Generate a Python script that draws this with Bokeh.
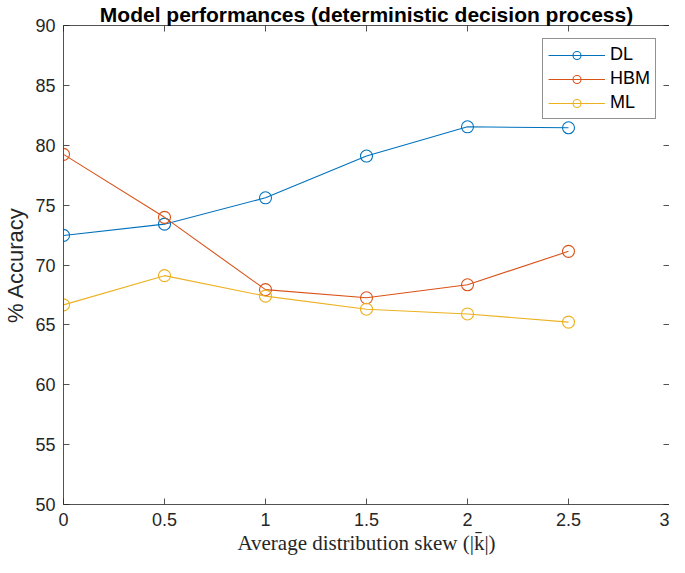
from bokeh.plotting import figure
from bokeh.models import Range1d, LinearAxis, FixedTicker, Legend, LegendItem, CustomJSTickFormatter
from bokeh.embed import file_html
from bokeh.resources import INLINE

skew = [0, 0.5, 1, 1.5, 2, 2.5]
dl = [72.47, 73.41, 75.61, 79.10, 81.54, 81.46]
hbm = [79.24, 73.98, 67.94, 67.26, 68.35, 71.14]
ml = [66.67, 69.11, 67.40, 66.31, 65.91, 65.23]

series_names = ["DL", "HBM", "ML"]
series_colors = ["#0072BD", "#D95319", "#EDB120"]

x_ticks = [0, 0.5, 1, 1.5, 2, 2.5, 3]
x_tick_labels = ["0", "0.5", "1", "1.5", "2", "2.5", "3"]
y_ticks = [50, 55, 60, 65, 70, 75, 80, 85, 90]
y_tick_labels = ["50", "55", "60", "65", "70", "75", "80", "85", "90"]

FONT = "Liberation Sans"
AX = "#262626"

p = figure(width=669, height=557, output_backend="svg", toolbar_location=None,
           x_range=Range1d(0, 3), y_range=Range1d(50, 90),
           title="Model performances (deterministic decision process)",
           min_border_left=0, min_border_right=0, min_border_top=0, min_border_bottom=0)
p.title.align = "center"
p.title.text_font = FONT
p.title.text_font_size = "21px"
p.title.text_font_style = "bold"
p.title.text_color = "#000000"
p.title.standoff = 0
p.title.offset = 0
p.grid.visible = False
p.outline_line_color = None
p.background_fill_color = "white"

def style_axis(ax, ticks, labels, show_labels=True):
    ax.ticker = FixedTicker(ticks=ticks)
    ax.major_tick_in = 6
    ax.major_tick_out = 0
    ax.minor_tick_line_color = None
    ax.axis_line_color = AX
    ax.axis_line_width = 0.8
    ax.major_tick_line_color = AX
    ax.major_tick_line_width = 0.8
    ax.major_label_text_font = FONT
    ax.major_label_text_color = AX
    if show_labels:
        ax.major_label_overrides = {t: l for t, l in zip(ticks, labels)}
        ax.major_label_text_font_size = "18px"
        ax.major_label_standoff = 8
    else:
        ax.formatter = CustomJSTickFormatter(code="return '';")
        ax.major_label_text_font_size = "0px"
        ax.major_label_standoff = 0
        ax.axis_label_standoff = 0

style_axis(p.xaxis[0], x_ticks, x_tick_labels)
style_axis(p.yaxis[0], y_ticks, y_tick_labels)
p.xaxis[0].axis_label = "Average distribution skew (|k\u0304|)"
p.xaxis[0].axis_label_text_font = "Liberation Serif"
p.xaxis[0].axis_label_text_font_style = "normal"
p.xaxis[0].axis_label_text_font_size = "21px"
p.xaxis[0].axis_label_text_color = AX
p.xaxis[0].axis_label_standoff = 2
p.xaxis[0].major_label_standoff = 8
p.yaxis[0].axis_label = "% Accuracy"
p.yaxis[0].axis_label_text_font = FONT
p.yaxis[0].axis_label_text_font_style = "normal"
p.yaxis[0].axis_label_text_font_size = "22px"
p.yaxis[0].axis_label_text_color = AX
p.yaxis[0].axis_label_standoff = 4

top_ax = LinearAxis()
style_axis(top_ax, x_ticks, x_tick_labels, show_labels=False)
right_ax = LinearAxis()
style_axis(right_ax, y_ticks, y_tick_labels, show_labels=False)
p.add_layout(top_ax, "above")
p.add_layout(right_ax, "right")

items = []
for name, ys, c in zip(series_names, [dl, hbm, ml], series_colors):
    r1 = p.line(skew, ys, line_color=c, line_width=1.1)
    r2 = p.scatter(skew, ys, marker="circle", size=12, fill_color=None, line_color=c, line_width=1.1)
    items.append(LegendItem(label=name, renderers=[r1, r2]))

legend = Legend(items=items, location="top_right")
legend.glyph_width = 57
legend.glyph_height = 20
legend.spacing = 3
legend.padding = 5
legend.margin = 13
legend.label_standoff = 5
legend.label_text_font = FONT
legend.label_text_font_size = "18px"
legend.label_text_color = "#000000"
legend.border_line_color = AX
legend.border_line_width = 0.8
legend.background_fill_alpha = 1
p.add_layout(legend, "center")

open("out.html", "w").write(file_html(p, INLINE))
